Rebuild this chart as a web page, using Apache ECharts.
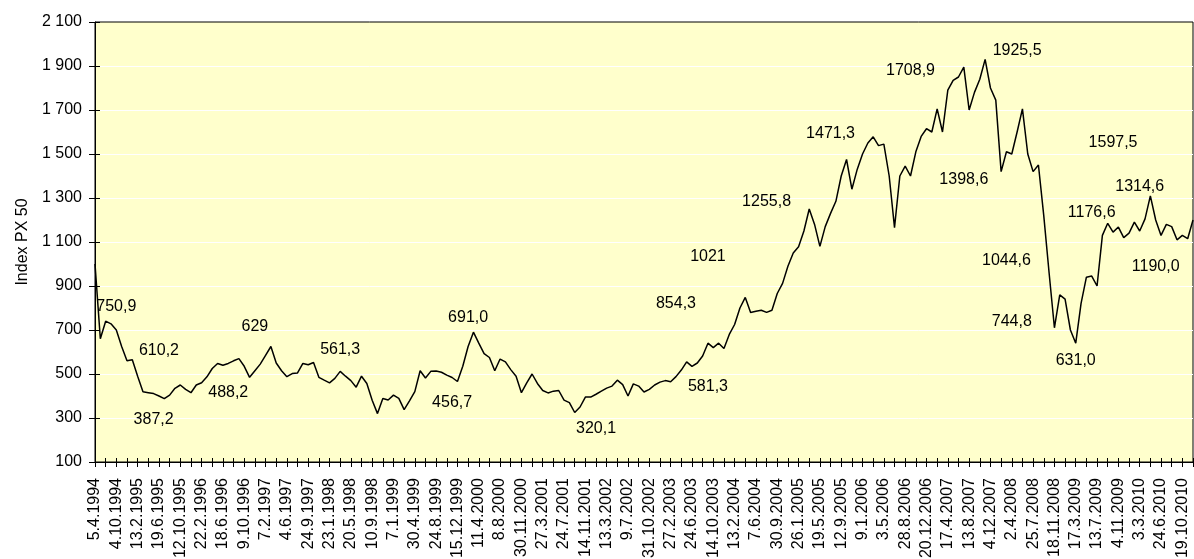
<!DOCTYPE html>
<html>
<head>
<meta charset="utf-8">
<title>Index PX 50</title>
<script src="https://cdn.jsdelivr.net/npm/echarts@6/dist/echarts.min.js"></script>
<style>
  html, body { margin: 0; padding: 0; background: #fff; }
  #chart { width: 1194px; height: 559px; }
</style>
</head>
<body>
<div id="chart"></div>
<script>
// category labels, one every 4 points
const tickLabels = [
  '5.4.1994', '4.10.1994', '13.2.1995', '19.6.1995', '12.10.1995', '22.2.1996',
  '18.6.1996', '9.10.1996', '7.2.1997', '4.6.1997', '24.9.1997', '23.1.1998',
  '20.5.1998', '10.9.1998', '7.1.1999', '30.4.1999', '24.8.1999', '15.12.1999',
  '11.4.2000', '8.8.2000', '30.11.2000', '27.3.2001', '24.7.2001', '14.11.2001',
  '13.3.2002', '9.7.2002', '31.10.2002', '27.2.2003', '24.6.2003', '14.10.2003',
  '13.2.2004', '7.6.2004', '30.9.2004', '26.1.2005', '19.5.2005', '12.9.2005',
  '9.1.2006', '3.5.2006', '28.8.2006', '20.12.2006', '17.4.2007', '13.8.2007',
  '4.12.2007', '2.4.2008', '25.7.2008', '18.11.2008', '17.3.2009', '13.7.2009',
  '4.11.2009', '3.3.2010', '24.6.2010', '19.10.2010'
]
const labelStep = 4

// index values
const px50 = [
  1000, 660, 740, 728, 700, 625, 560, 565, 490, 419,
  415, 411, 400, 388, 404, 435, 450, 430, 415, 450,
  460, 487, 525, 548, 540, 548, 560, 570, 535, 485,
  515, 545, 585, 625, 550, 515, 488, 502, 505, 548,
  542, 552, 485, 472, 460, 480, 512, 490, 470, 440,
  490, 457, 381, 320, 389, 382, 404, 389, 338, 378,
  420, 515, 482, 512, 514, 508, 495, 484, 466, 535,
  625, 690, 640, 593, 575, 515, 568, 555, 520, 490,
  415, 460, 500, 457, 425, 414, 422, 425, 381, 370,
  325, 350, 395, 395, 408, 422, 436, 445, 472, 452,
  400, 455, 445, 418, 430, 450, 463, 470, 465, 488,
  518, 555, 535, 550, 582, 640, 620, 640, 616, 680,
  725, 800, 848, 780, 785, 790, 780, 790, 866, 912,
  990, 1050, 1078, 1150, 1250, 1180, 1080, 1170, 1230, 1285,
  1400, 1475, 1340, 1430, 1500, 1550, 1578, 1538, 1545, 1400,
  1165, 1400, 1445, 1400, 1510, 1580, 1615, 1600, 1705, 1600,
  1790, 1835, 1850, 1895, 1700, 1780, 1840, 1930, 1800, 1745,
  1420, 1510, 1500, 1600, 1705, 1500, 1420, 1450, 1220, 960,
  710, 860, 840, 700, 640, 821, 940, 945, 900, 1130,
  1185, 1145, 1168, 1120, 1140, 1190, 1150, 1205, 1310, 1200,
  1130, 1180, 1170, 1110, 1130, 1115, 1200
]

// annotation texts and where they sit [point index, index value]
const noteTexts = [
  '750,9', '610,2', '387,2', '488,2', '629', '561,3', '691,0', '456,7',
  '320,1', '581,3', '854,3', '1021', '1255,8', '1471,3', '1708,9', '1925,5',
  '1398,6', '1044,6', '744,8', '631,0', '1597,5', '1176,6', '1314,6', '1190,0'
]
const notePos = [
  [4, 806], [12, 608], [11, 293], [25, 414], [30, 714], [46, 612], [70, 755], [67, 369],
  [94, 252], [115, 441], [109, 821], [115, 1033], [126, 1284], [138, 1595], [153, 1878], [173, 1971],
  [163, 1382], [171, 1014], [172, 737], [184, 563], [191, 1552], [187, 1233], [196, 1352], [199, 988]
]

const font = '"Liberation Sans", Arial, sans-serif'
const xData = px50.map((v, i) => String(i))
const spaced = v => String(v).replace(/\B(?=(\d{3})+(?!\d))/g, ' ')

const chart = echarts.init(document.getElementById('chart'))
chart.setOption({
  animation: false,
  backgroundColor: '#ffffff',
  textStyle: { fontFamily: font },
  grid: {
    left: 95,
    right: 1,
    top: 22,
    bottom: 97,
    outerBoundsMode: 'none',
    containLabel: false,
    show: true,
    backgroundColor: '#FFFFCC',
    borderColor: '#000',
    borderWidth: 1
  },
  xAxis: [{
    type: 'category',
    data: xData,
    boundaryGap: false,
    axisLine: { lineStyle: { color: '#000', width: 1 } },
    axisTick: { interval: 1, length: 5, lineStyle: { color: '#000' } },
    axisLabel: {
      interval: labelStep - 1,
      rotate: 90,
      margin: 16,
      color: '#000',
      fontSize: 16,
      fontFamily: font,
      formatter: (v, i) => tickLabels[i / labelStep] || ''
    },
    splitLine: { show: false }
  }, {
    // inner half of the crossing ticks
    type: 'category',
    data: xData,
    boundaryGap: false,
    position: 'bottom',
    axisLine: { show: false },
    axisTick: { interval: 1, inside: true, length: 4, lineStyle: { color: '#000' } },
    axisLabel: { show: false },
    splitLine: { show: false }
  }],
  yAxis: [{
    type: 'value',
    min: 100,
    max: 2100,
    interval: 200,
    name: 'Index PX 50',
    nameLocation: 'middle',
    nameGap: 62,
    nameTextStyle: { color: '#000', fontSize: 16, fontFamily: font },
    axisLine: { show: true, lineStyle: { color: '#000', width: 1 } },
    axisTick: { show: true, length: 6, lineStyle: { color: '#000' } },
    axisLabel: { margin: 13, color: '#000', fontSize: 16, fontFamily: font, formatter: spaced },
    splitLine: { show: true, showMinLine: false, showMaxLine: false, lineStyle: { color: '#ffffff', width: 1 } }
  }, {
    type: 'value',
    min: 100,
    max: 2100,
    interval: 200,
    position: 'left',
    axisLine: { show: false },
    axisTick: { show: true, inside: true, length: 5, lineStyle: { color: '#000' } },
    axisLabel: { show: false },
    splitLine: { show: false }
  }],
  series: [{
    name: 'PX 50',
    type: 'line',
    data: px50,
    showSymbol: false,
    lineStyle: { color: '#000', width: 1.5 },
    itemStyle: { color: '#000' },
    markPoint: {
      symbol: 'circle',
      symbolSize: 0,
      itemStyle: { color: 'rgba(0,0,0,0)' },
      label: {
        show: true,
        position: 'inside',
        formatter: '{b}',
        color: '#000',
        fontSize: 16,
        fontFamily: font
      },
      data: noteTexts.map((t, k) => ({ name: t, coord: notePos[k] }))
    }
  }]
})
</script>
</body>
</html>
